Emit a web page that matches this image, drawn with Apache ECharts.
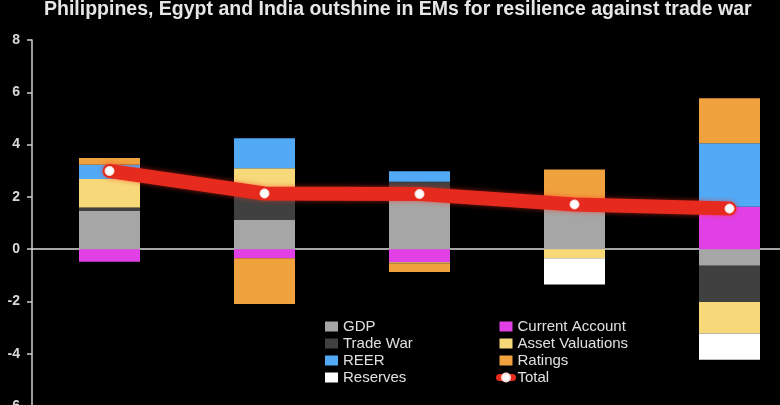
<!DOCTYPE html>
<html>
<head>
<meta charset="utf-8">
<script src="https://cdn.jsdelivr.net/npm/echarts@6/dist/echarts.min.js"></script>
<style>
html,body{margin:0;padding:0;background:#000;}
#chart{width:780px;height:405px;}
</style>
</head>
<body>
<div id="chart"></div>
<script>
var titleText = 'Philippines, Egypt and India outshine in EMs for resilience against trade war';
var categories = ['Philippines', 'Egypt', 'India', 'EM 4', 'EM 5'];
var yTicks = [-6, -4, -2, 0, 2, 4, 6, 8];

var gdp = [1.46, 1.11, 2.25, 1.72, -0.64];
var currentAccount = [-0.48, -0.35, -0.50, 0, 1.62];
var tradeWar = [0.13, 1.07, 0.33, 0, -1.38];
var assetValuations = [1.09, 0.91, -0.05, -0.35, -1.21];
var reer = [0.55, 1.15, 0.40, 0, 2.43];
var ratings = [0.26, -1.75, -0.32, 1.33, 1.72];
var reserves = [0, 0, 0, -1.00, -1.00];
var total = [2.99, 2.13, 2.11, 1.71, 1.55];

var seriesNames = ['GDP', 'Current Account', 'Trade War', 'Asset Valuations', 'REER', 'Ratings', 'Reserves'];
var seriesData = [gdp, currentAccount, tradeWar, assetValuations, reer, ratings, reserves];
var seriesColors = ['#a6a6a6', '#e040e6', '#404040', '#f7d97a', '#52a9f5', '#f0a23e', '#ffffff'];
var totalColor = '#e62a1e';

var chart = echarts.init(document.getElementById('chart'), null, {renderer: 'canvas'});

var series = seriesNames.map(function (n, i) {
  return {
    name: n,
    type: 'bar',
    stack: 'all',
    barWidth: 61,
    data: seriesData[i],
    itemStyle: {color: seriesColors[i]},
    emphasis: {disabled: true}
  };
});
series.push({
  name: 'Total',
  type: 'line',
  data: total,
  z: 10,
  symbol: 'circle',
  symbolSize: 9,
  lineStyle: {color: totalColor, width: 14, cap: 'round', join: 'round',
    shadowColor: 'rgba(255,50,30,0.6)', shadowBlur: 5},
  itemStyle: {color: '#ffffff', borderColor: '#fde0da', borderWidth: 1},
  emphasis: {disabled: true}
});

var legendText = {color: '#e0e0e0', fontSize: 15, fontFamily: 'Liberation Sans, Arial, sans-serif', lineHeight: 17};

chart.setOption({
  backgroundColor: '#000000',
  animation: false,
  title: {
    text: titleText,
    left: 44,
    top: 0,
    padding: 0,
    textStyle: {color: '#e6e6e6', fontSize: 19.5, fontWeight: 'bold', fontFamily: 'Liberation Sans, Arial, sans-serif'}
  },
  legend: [{
    orient: 'vertical',
    left: 325,
    top: 318,
    itemWidth: 13,
    itemHeight: 10,
    itemGap: 0,
    padding: 0,
    data: [
      {name: 'GDP', icon: 'rect'},
      {name: 'Trade War', icon: 'rect'},
      {name: 'REER', icon: 'rect'},
      {name: 'Reserves', icon: 'rect'}
    ],
    textStyle: legendText,
    selectedMode: false
  }, {
    orient: 'vertical',
    left: 496,
    top: 318,
    itemWidth: 13,
    itemHeight: 10,
    itemGap: 0,
    padding: 0,
    data: [
      {name: 'Current Account', icon: 'rect'},
      {name: 'Asset Valuations', icon: 'rect'},
      {name: 'Ratings', icon: 'rect'},
      {name: 'Total', lineStyle: {width: 7, cap: 'round', shadowBlur: 0}}
    ],
    textStyle: legendText,
    selectedMode: false
  }],
  grid: {left: 32, top: 40, width: 775, height: 366, containLabel: false, outerBoundsMode: 'none'},
  xAxis: {
    type: 'category',
    data: categories,
    axisLine: {onZero: true, lineStyle: {color: '#dcdcdc', width: 1.5}},
    axisTick: {show: false},
    axisLabel: {show: false},
    splitLine: {show: false}
  },
  yAxis: {
    type: 'value',
    min: yTicks[0],
    max: yTicks[yTicks.length - 1],
    interval: 2,
    axisLine: {show: true, lineStyle: {color: '#cfcfcf', width: 1.5}},
    axisTick: {show: true, length: 5, lineStyle: {color: '#cfcfcf', width: 1.5}},
    axisLabel: {color: '#d8d8d8', fontSize: 14, fontWeight: 'bold', margin: 12,
      fontFamily: 'Liberation Sans, Arial, sans-serif'},
    splitLine: {show: false}
  },
  series: series
});
</script>
</body>
</html>
